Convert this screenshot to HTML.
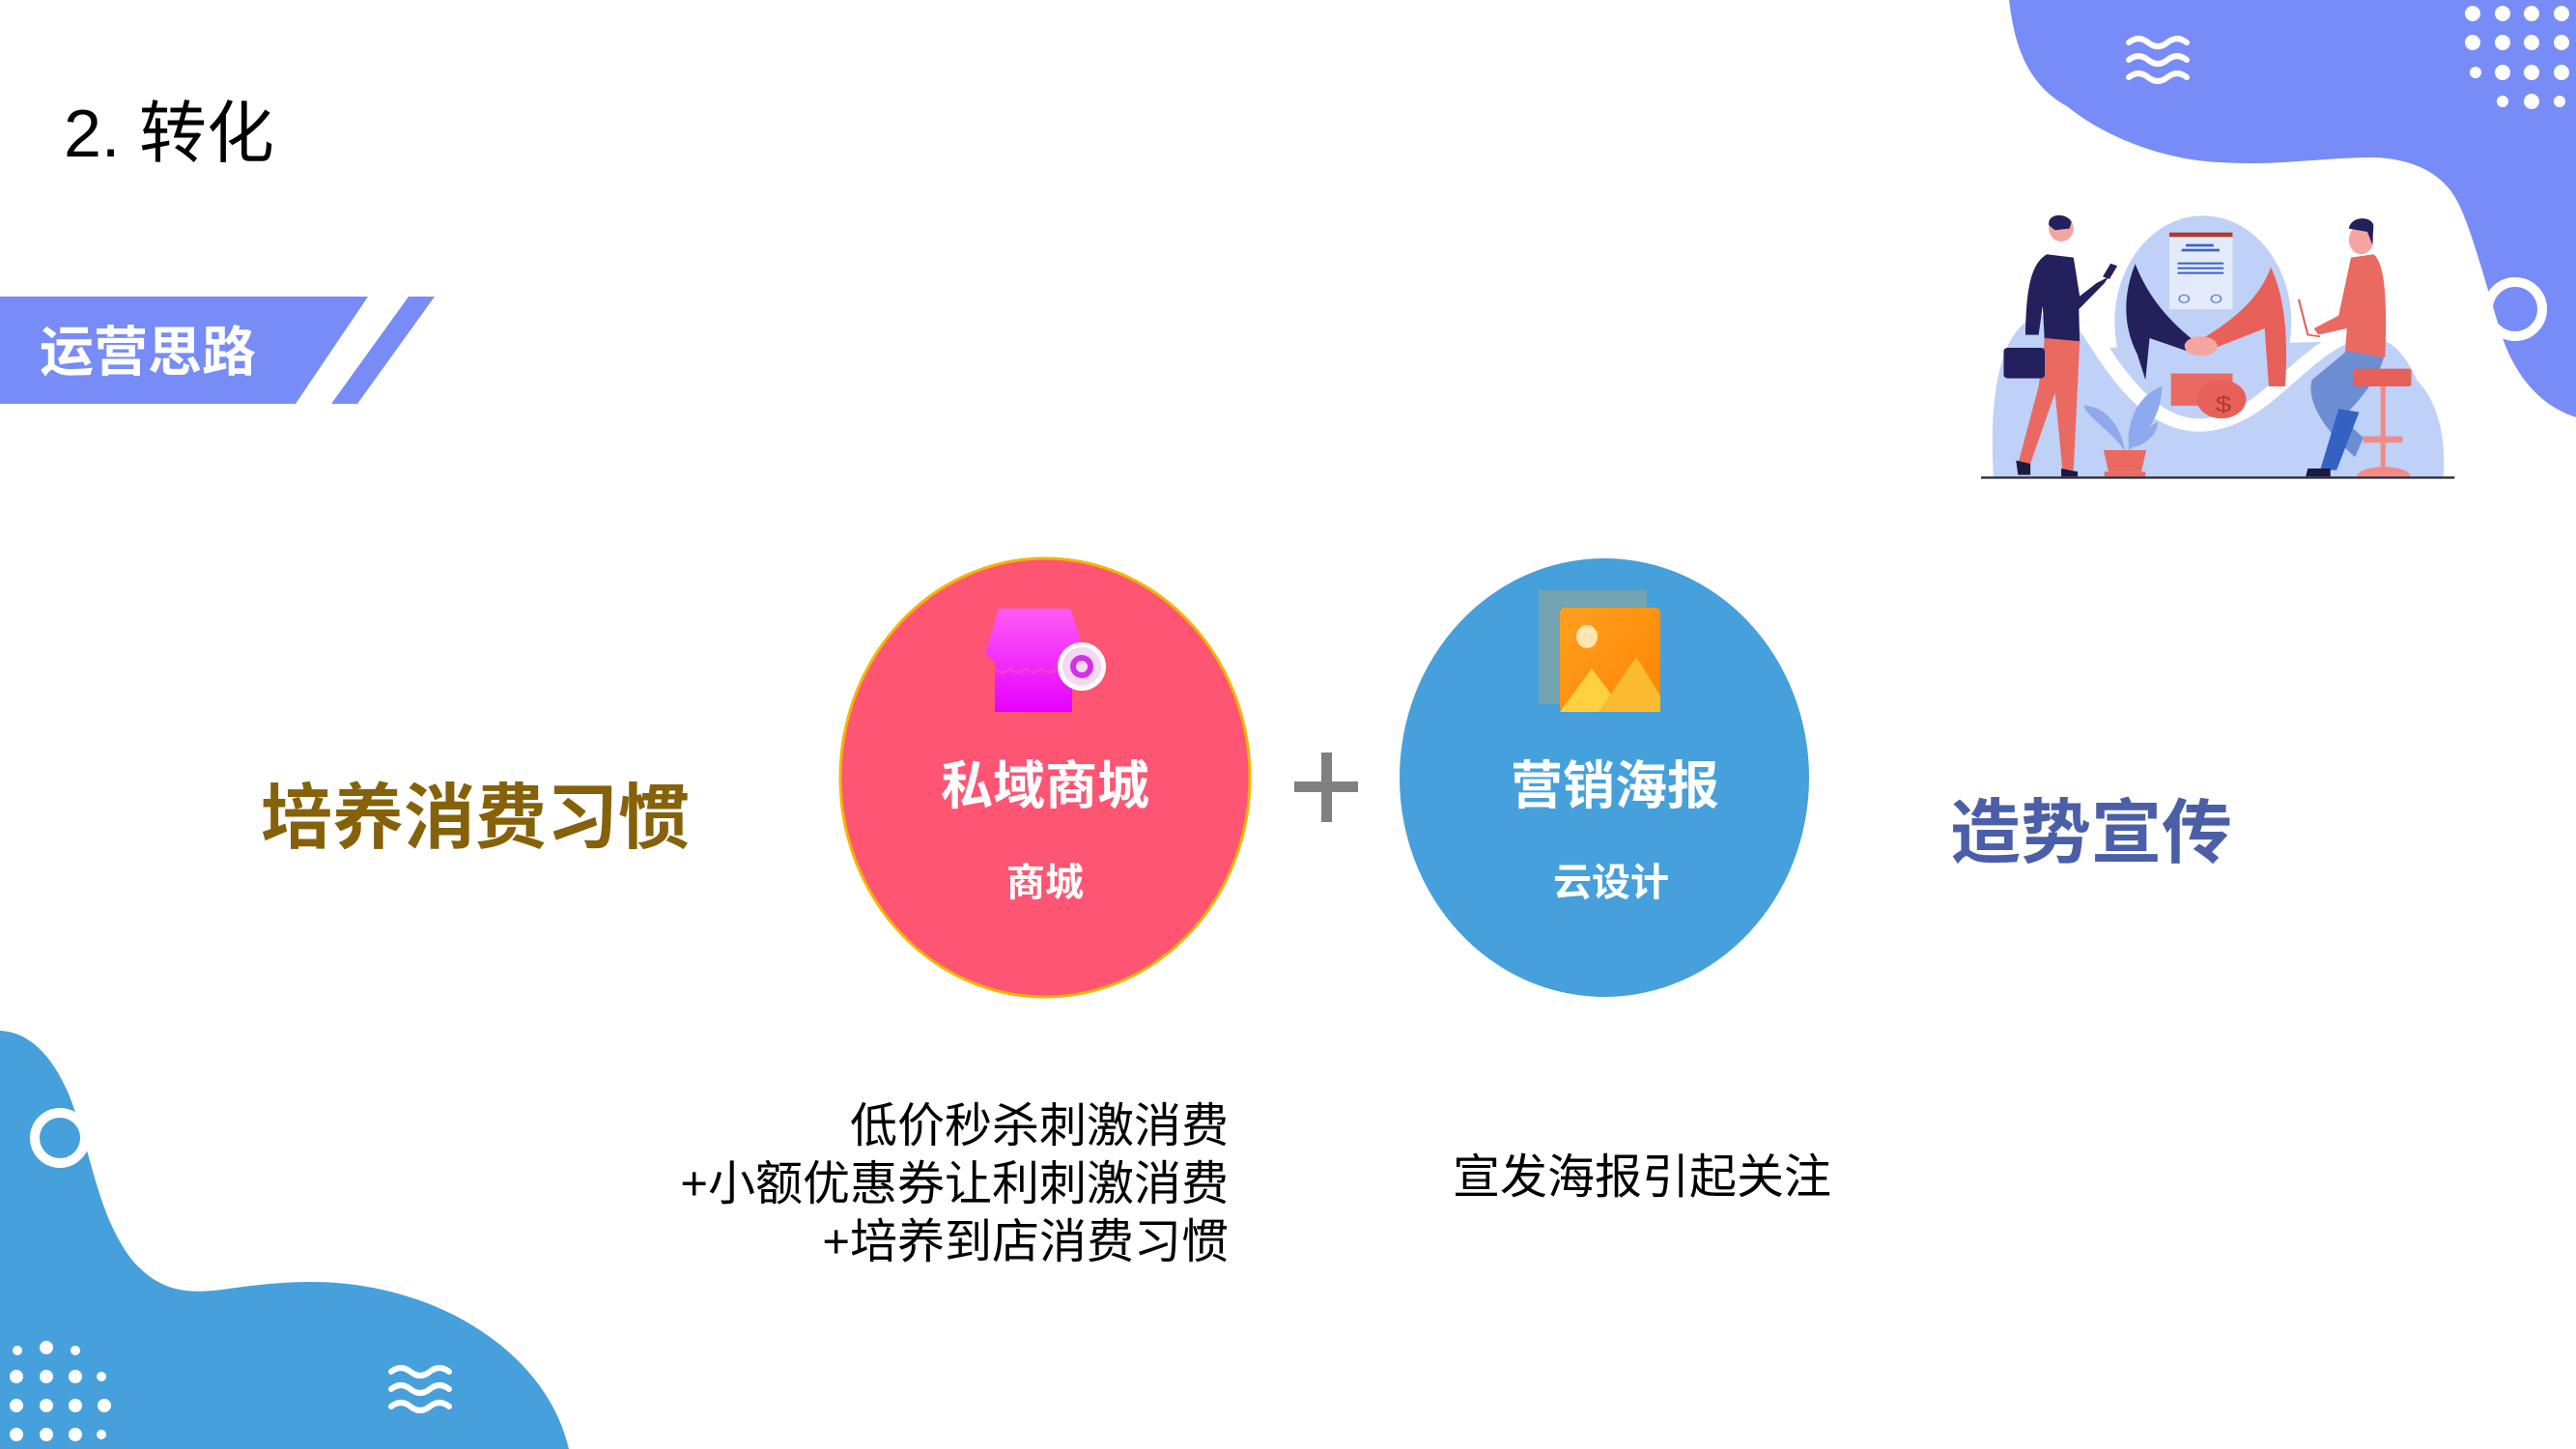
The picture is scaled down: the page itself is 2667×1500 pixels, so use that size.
<!DOCTYPE html>
<html><head><meta charset="utf-8"><style>
html,body{margin:0;padding:0;background:#fff;}
svg{display:block;}
text{font-family:"Liberation Sans","Noto Sans CJK SC",sans-serif;}
</style></head><body>
<svg width="2667" height="1500" viewBox="0 0 2667 1500" xmlns="http://www.w3.org/2000/svg">
<defs>
<linearGradient id="shop" x1="0" y1="0" x2="0" y2="1"><stop offset="0" stop-color="#ff5cf5"/><stop offset="1" stop-color="#e600ff"/></linearGradient>
<linearGradient id="pic" x1="0" y1="0" x2="1" y2="1"><stop offset="0" stop-color="#ffa020"/><stop offset="1" stop-color="#ff8400"/></linearGradient>
</defs>
<path d="M2080,0 C2085,40 2095,85 2140,110 C2170,135 2230,165 2298,168 C2360,172 2400,163 2460,163 C2500,165 2530,180 2545,210 C2560,240 2575,300 2591,350 C2605,390 2630,420 2667,432 L2667,0 Z" fill="#788cf7"/>
<circle cx="2604" cy="320" r="28" fill="none" stroke="#fff" stroke-width="10"/>
<g fill="#fff">
<circle cx="2560" cy="14" r="8"/><circle cx="2591" cy="14" r="8"/><circle cx="2621" cy="14" r="8"/><circle cx="2652" cy="14" r="8"/>
<circle cx="2560" cy="44" r="8"/><circle cx="2591" cy="44" r="8"/><circle cx="2621" cy="44" r="8"/><circle cx="2652" cy="44" r="8"/>
<circle cx="2563" cy="75" r="6"/><circle cx="2591" cy="75" r="8"/><circle cx="2621" cy="75" r="8"/><circle cx="2652" cy="75" r="8"/>
<circle cx="2591" cy="105" r="6"/><circle cx="2621" cy="105" r="8"/><circle cx="2650" cy="105" r="6"/>
</g>
<g fill="none" stroke="#fff" stroke-width="6" stroke-linecap="round">
<path d="M2204,44 q10,-8 20,0 t20,0 t20,0"/>
<path d="M2204,62 q10,-8 20,0 t20,0 t20,0"/>
<path d="M2204,80 q10,-8 20,0 t20,0 t20,0"/>
</g>
<g transform="translate(2000,0) scale(0.4255,0.3333)">
<path d="M150,1480 C140,1250 160,1050 240,990 C300,960 360,1000 420,1080 L1000,1060 C1080,1020 1140,1060 1180,1180 C1240,1260 1250,1380 1245,1480 Z" fill="#bfd1f7"/>
<ellipse cx="660" cy="1000" rx="215" ry="330" fill="#bfd1f7"/>
<path d="M360,980 C430,1120 520,1330 660,1320 C800,1310 880,1120 1000,1050" fill="none" stroke="#fff" stroke-width="40"/>
<rect x="578" y="722" width="154" height="238" fill="#e3eaf9"/>
<rect x="578" y="722" width="154" height="14" fill="#b03a2e"/>
<g fill="#3a63c8"><rect x="618" y="758" width="68" height="8"/><rect x="608" y="773" width="92" height="8"/><rect x="598" y="815" width="112" height="6"/><rect x="598" y="830" width="112" height="6"/><rect x="598" y="845" width="112" height="6"/></g>
<circle cx="614" cy="928" r="12" fill="none" stroke="#6a88d0" stroke-width="4"/><circle cx="692" cy="928" r="12" fill="none" stroke="#6a88d0" stroke-width="4"/>
<path d="M495,820 C470,900 460,1000 500,1100 L520,1180 L530,1050 L620,1090 L640,1060 C560,980 520,900 495,820 Z" fill="#23205c"/>
<path d="M825,830 C850,900 870,1000 860,1200 L820,1200 L810,1020 L690,1080 L660,1050 C740,990 800,920 825,830 Z" fill="#e8605a"/>
<ellipse cx="655" cy="1075" rx="40" ry="30" fill="#f4a5a0"/>
<rect x="582" y="1160" width="150" height="100" fill="#ea6a62"/>
<circle cx="705" cy="1240" r="60" fill="#e8605a"/><text x="690" y="1280" font-size="70" fill="#b03a2e">$</text>
<ellipse cx="315" cy="710" rx="30" ry="40" fill="#f4a5a0"/>
<path d="M285,700 C280,660 330,660 340,690 L335,710 L300,715 Z" fill="#23205c"/>
<path d="M280,790 C240,820 230,900 228,1040 L260,1040 L270,950 L275,1070 L360,1070 L358,960 L420,880 L430,860 L400,880 L360,920 L345,800 Z" fill="#23205c"/>
<path d="M275,1050 L360,1060 L345,1460 L318,1460 L300,1220 L240,1440 L210,1440 L260,1200 Z" fill="#ea6a62"/>
<rect x="175" y="1080" width="100" height="95" rx="10" fill="#23205c"/>
<rect x="425" y="820" width="18" height="45" fill="#23205c" transform="rotate(25 434 842)"/>
<path d="M205,1430 l35,10 l0,35 l-30,0 Z M315,1455 l40,10 l0,15 l-40,0 Z" fill="#1a1a40"/>
<path d="M470,1400 C430,1330 380,1300 370,1260 C420,1260 460,1320 470,1400 Z M480,1400 C470,1300 510,1220 560,1200 C560,1290 520,1350 480,1400 Z M490,1390 C510,1330 540,1320 550,1310 C550,1350 520,1380 490,1390 Z" fill="#8fa9ee"/>
<path d="M418,1398 L522,1398 L510,1465 L430,1465 Z" fill="#ea6a62"/>
<rect x="420" y="1465" width="100" height="15" fill="#ea6a62"/>
<ellipse cx="1045" cy="745" rx="30" ry="45" fill="#f4a5a0"/>
<path d="M1015,710 C1020,670 1070,670 1075,700 L1072,760 L1060,720 Z" fill="#23205c"/>
<path d="M1020,800 L1075,790 C1105,820 1108,950 1103,1110 L1005,1110 L1010,1020 L940,1040 L930,1020 L990,980 Z" fill="#ea6a62"/>
<path d="M1010,1090 L1100,1110 C1080,1200 1010,1280 1000,1300 L1050,1360 L1030,1420 C960,1340 910,1250 925,1180 Z" fill="#6d8dd3"/>
<path d="M990,1270 L1040,1280 L985,1460 L945,1460 Z" fill="#3362c2"/>
<path d="M893,930 L915,1040 L945,1045" fill="none" stroke="#e8605a" stroke-width="5"/>
<rect x="1025" y="1145" width="142" height="55" rx="6" fill="#e8605a"/>
<rect x="1092" y="1200" width="12" height="260" fill="#f48a85"/>
<rect x="1050" y="1355" width="95" height="20" fill="#f48a85"/>
<path d="M1035,1480 C1040,1440 1160,1440 1165,1480 Z" fill="#f48a85"/>
<path d="M915,1455 l55,0 l0,25 l-60,0 Z" fill="#1a1a40"/>
<rect x="120" y="1480" width="1152" height="7" fill="#2a2a3a"/>
</g>
<path d="M0,1067 C25,1068 50,1085 70,1130 C95,1190 100,1260 139,1307 C165,1335 190,1340 230,1335 C300,1325 360,1320 437,1347 C500,1370 570,1420 589,1500 L0,1500 Z" fill="#46a0db"/>
<circle cx="62" cy="1178" r="26" fill="none" stroke="#fff" stroke-width="10"/>
<g fill="#fff">
<circle cx="48" cy="1395" r="7"/><circle cx="18" cy="1398" r="5"/><circle cx="78" cy="1398" r="5"/>
<circle cx="17" cy="1425" r="7"/><circle cx="48" cy="1425" r="7"/><circle cx="78" cy="1425" r="7"/><circle cx="105" cy="1425" r="5"/>
<circle cx="17" cy="1455" r="7"/><circle cx="48" cy="1455" r="7"/><circle cx="78" cy="1455" r="7"/><circle cx="108" cy="1455" r="7"/>
<circle cx="17" cy="1485" r="7"/><circle cx="48" cy="1485" r="7"/><circle cx="78" cy="1485" r="7"/><circle cx="105" cy="1485" r="5"/>
</g>
<g fill="none" stroke="#fff" stroke-width="6" stroke-linecap="round">
<path d="M405,1420 q10,-8 20,0 t20,0 t20,0"/>
<path d="M405,1438 q10,-8 20,0 t20,0 t20,0"/>
<path d="M405,1456 q10,-8 20,0 t20,0 t20,0"/>
</g>
<text x="66" y="162" font-size="70" fill="#000">2. 转化</text>
<polygon points="0,307 381,307 306,418 0,418" fill="#788cf7"/>
<polygon points="423,307 450,307 370,418 343,418" fill="#788cf7"/>
<text x="41" y="384" font-size="56" font-weight="bold" fill="#fff">运营思路</text>
<ellipse cx="1082" cy="805" rx="212" ry="227" fill="#fe5573" stroke="#f5b400" stroke-width="3"/>
<ellipse cx="1661" cy="805" rx="212" ry="227" fill="#45a0db"/>
<rect x="1368" y="779" width="11" height="72" fill="#808080"/>
<rect x="1340" y="809" width="66" height="11" fill="#808080"/>
<path d="M1034,630 L1108,630 L1118,660 L1118,700 L1110,700 L1110,737 L1030,737 L1030,686 L1020,676 Z" fill="url(#shop)"/>
<path d="M1030,692 q8,8 16,0 q8,8 16,0 q8,8 16,0 q8,8 16,0" fill="none" stroke="#ff3ccc" stroke-width="2"/>
<circle cx="1120" cy="690" r="25" fill="#fff"/>
<circle cx="1120" cy="690" r="20" fill="#f4d8f4"/>
<circle cx="1120" cy="690" r="9" fill="none" stroke="#d330e8" stroke-width="6"/>
<rect x="1593" y="611" width="112" height="118" fill="#7fa4a6" opacity="0.8"/>
<rect x="1615" y="629" width="104" height="108" rx="5" fill="url(#pic)"/>
<ellipse cx="1643" cy="659" rx="11" ry="12" fill="#ffe6b0"/>
<polygon points="1615,737 1648,692 1682,737" fill="#ffd040"/>
<polygon points="1655,737 1694,680 1719,720 1719,737" fill="#fbbb30"/>
<text x="1082" y="832" font-size="54" font-weight="bold" fill="#fff" text-anchor="middle">私域商城</text>
<text x="1082" y="927" font-size="40" font-weight="bold" fill="#fff" text-anchor="middle">商城</text>
<text x="1672" y="832" font-size="54" font-weight="bold" fill="#fff" text-anchor="middle">营销海报</text>
<text x="1668" y="927" font-size="40" font-weight="bold" fill="#fff" text-anchor="middle">云设计</text>
<text x="270" y="872" font-size="74" font-weight="bold" fill="#85620a">培养消费习惯</text>
<text x="2019" y="887" font-size="73" font-weight="bold" fill="#4b5ea8">造势宣传</text>
<text x="1272" y="1182" font-size="49" fill="#000" text-anchor="end">低价秒杀刺激消费</text>
<text x="1272" y="1242" font-size="49" fill="#000" text-anchor="end">+小额优惠券让利刺激消费</text>
<text x="1272" y="1302" font-size="49" fill="#000" text-anchor="end">+培养到店消费习惯</text>
<text x="1504" y="1235" font-size="49" fill="#000">宣发海报引起关注</text>
</svg>
</body></html>
